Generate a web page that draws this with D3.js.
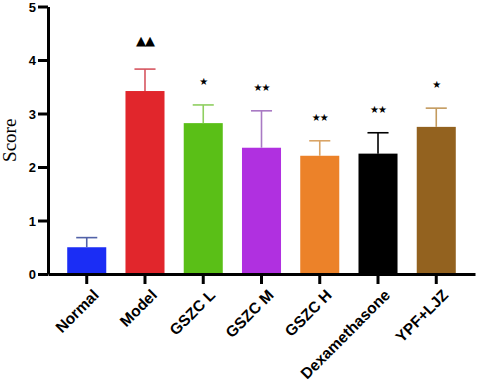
<!DOCTYPE html>
<html>
<head>
<meta charset="utf-8">
<script src="https://cdn.jsdelivr.net/npm/d3@7"></script>
<style>
  body { margin: 0; background: #fff; }
</style>
</head>
<body>
<div id="chart"></div>
<script>
const groups = ['Normal', 'Model', 'GSZC L', 'GSZC M', 'GSZC H', 'Dexamethasone', 'YPF+LJZ'];
const means = [0.5, 3.42, 2.82, 2.36, 2.21, 2.25, 2.75];
const errUpper = [0.68, 3.83, 3.16, 3.05, 2.49, 2.64, 3.10];
const marks = ['', '▲▲', '★', '★★', '★★', '★★', '★'];
const barColors = ['#1b2df5', '#e1262c', '#5abf17', '#b030e0', '#ec8229', '#000000', '#93621f'];
const errColors = ['#5262a8', '#d65560', '#8fcf60', '#a97ac4', '#d9a466', '#000000', '#c39a5e'];
const yTicks = [0, 1, 2, 3, 4, 5];

const width = 477, height = 385;
const margin = {left: 48, top: 6.5, right: 2, bottom: 111};
const innerW = width - margin.left - margin.right,
    innerH = height - margin.top - margin.bottom;

const svg = d3.select('#chart').append('svg')
    .attr('width', width)
    .attr('height', height);

const g = svg.append('g')
    .attr('transform', `translate(${margin.left}, ${margin.top})`);

const x = d3.scaleBand()
    .domain(groups)
    .range([0, innerW])
    .paddingInner(0.33)
    .paddingOuter(0.33);

const y = d3.scaleLinear()
    .domain([0, 5])
    .range([innerH, 0]);

// bars
g.selectAll('.bar')
    .data(groups)
    .join('rect')
    .attr('class', 'bar')
    .attr('x', d => x(d))
    .attr('y', (d, i) => y(means[i]))
    .attr('width', x.bandwidth())
    .attr('height', (d, i) => innerH - y(means[i]))
    .attr('fill', (d, i) => barColors[i]);

// error bars
const cap = x.bandwidth() * 0.27;
const err = g.selectAll('.err')
    .data(groups)
    .join('g')
    .attr('class', 'err')
    .attr('stroke', (d, i) => errColors[i])
    .attr('stroke-width', 1.6);

err.append('line')
    .attr('x1', d => x(d) + x.bandwidth() / 2)
    .attr('x2', d => x(d) + x.bandwidth() / 2)
    .attr('y1', (d, i) => y(means[i]))
    .attr('y2', (d, i) => y(errUpper[i]));

err.append('line')
    .attr('x1', d => x(d) + x.bandwidth() / 2 - cap)
    .attr('x2', d => x(d) + x.bandwidth() / 2 + cap)
    .attr('y1', (d, i) => y(errUpper[i]))
    .attr('y2', (d, i) => y(errUpper[i]));

// significance marks
g.selectAll('.mark')
    .data(groups)
    .join('text')
    .attr('class', 'mark')
    .attr('x', d => x(d) + x.bandwidth() / 2)
    .attr('y', (d, i) => y(errUpper[i]) - (i === 1 ? 24 : 20))
    .attr('text-anchor', 'middle')
    .attr('font-family', 'DejaVu Sans')
    .attr('font-size', (d, i) => i === 1 ? '13px' : '10px')
    .attr('letter-spacing', '-1px')
    .attr('fill', '#000')
    .text((d, i) => marks[i]);

// axes
const yAxis = g.append('g')
    .call(d3.axisLeft(y).tickValues(yTicks).tickFormat(d3.format('d'))
        .tickSize(10).tickPadding(2).tickSizeOuter(0));

const xAxis = g.append('g')
    .attr('transform', `translate(0, ${innerH})`)
    .call(d3.axisBottom(x).tickSize(10).tickSizeOuter(0));

[yAxis, xAxis].forEach(a => {
    a.select('.domain').attr('stroke', '#000').attr('stroke-width', 3);
    a.selectAll('.tick line').attr('stroke', '#000').attr('stroke-width', 3);
    a.selectAll('text')
        .attr('fill', '#000')
        .attr('font-family', 'Liberation Sans, Arial, sans-serif')
        .attr('font-weight', 'bold');
});

yAxis.selectAll('text').attr('font-size', '13px').attr('dy', '0.36em');

xAxis.selectAll('text')
    .attr('font-size', '15.5px')
    .attr('text-anchor', 'end')
    .attr('dy', '0.35em')
    .attr('transform', 'translate(0, 9) rotate(-45)');

// y label
svg.append('text')
    .attr('transform', `translate(16, ${margin.top + y(2.5)}) rotate(-90)`)
    .attr('text-anchor', 'middle')
    .attr('font-family', 'Liberation Serif, Times New Roman, serif')
    .attr('font-size', '19px')
    .attr('fill', '#000')
    .text('Score');
</script>
</body>
</html>
